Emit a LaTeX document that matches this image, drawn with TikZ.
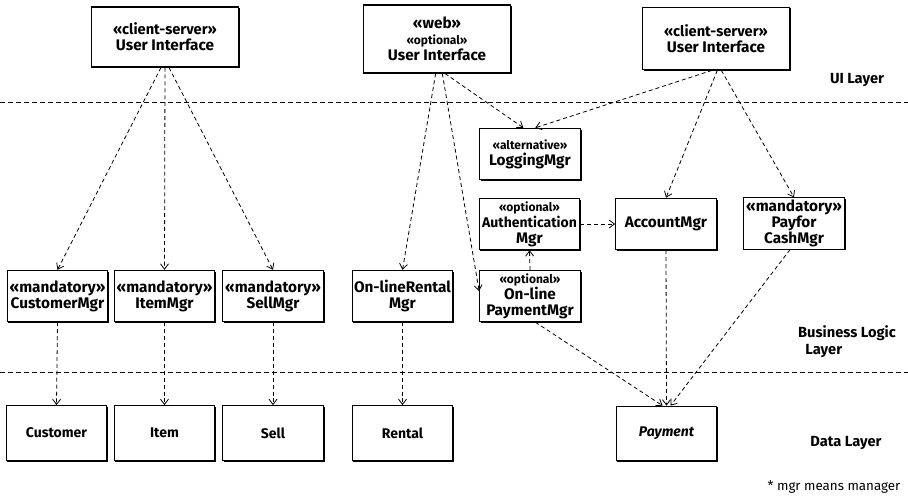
\documentclass[tikz,border=0pt]{standalone}
\usepackage{fontspec}
\setmainfont{Fira Sans}
\usepackage{tikz}
\usetikzlibrary{arrows.meta, shadows}

\newcommand{\stereo}[1]{{\fontsize{9}{10}\selectfont «#1»}}

\begin{document}
\begin{tikzpicture}[x=0.75pt, y=-0.75pt,
    box/.style={draw, line width=0.8pt, fill=white, align=center, inner sep=1pt,
      font=\bfseries\fontsize{11.5}{12}\selectfont,
      drop shadow={shadow xshift=0.9pt, shadow yshift=-0.9pt, fill=black, opacity=1}},
    ui/.style={box, minimum width=110pt, minimum height=45pt},
    mgr/.style={box, minimum width=75.5pt, minimum height=38.5pt},
    data/.style={box, minimum width=75.5pt, minimum height=41pt, font=\bfseries\fontsize{10.5}{12}\selectfont},
    dep/.style={line width=0.6pt, dash pattern=on 3pt off 2.2pt, -{Straight Barb[length=4pt, width=6pt]}},
    layer/.style={line width=0.6pt, dash pattern=on 3.5pt off 2.5pt},
    lbl/.style={font=\bfseries\fontsize{11}{13}\selectfont, align=left}]
  \useasboundingbox (0,0) rectangle (908,498);

  % Layers
  \draw[layer] (0,102) -- (908,102);
  \draw[layer] (0,372) -- (908,372);
  \node[lbl] (uil) at (857,80) {UI Layer};
  \node[lbl] (bll) at (847,342) {Business Logic\\\hspace{0.5em}Layer};
  \node[lbl] (dl) at (846,443) {Data Layer};
  \node[font=\fontsize{10}{11}\selectfont, anchor=east] (note) at (905,487) {* mgr means manager};

  % UI layer
  \node[ui] (ui1) at (165,37) {\fontsize{11}{14}\selectfont «client-server»\\User Interface};
  \node[ui, minimum height=51pt] (ui2) at (437,39) {«web»\\\stereo{optional}\\User Interface};
  \node[ui, minimum height=47pt] (ui3) at (716,38.5) {\fontsize{11}{14}\selectfont «client-server»\\User Interface};

  % Business logic layer
  \node[mgr] (log) at (530,154) {\stereo{alternative}\\LoggingMgr};
  \node[mgr] (auth) at (529.5,224) {\stereo{optional}\\\fontsize{10.5}{11}\selectfont Authentication\\Mgr};
  \node[mgr] (acc) at (666,224) {AccountMgr};
  \node[mgr] (cash) at (794,223.5) {«mandatory»\\Payfor\\CashMgr};
  \node[mgr] (opay) at (530,296) {\stereo{optional}\\On-line\\PaymentMgr};
  \node[mgr] (cmgr) at (57.5,296) {«mandatory»\\CustomerMgr};
  \node[mgr] (imgr) at (164.5,296) {«mandatory»\\ItemMgr};
  \node[mgr] (smgr) at (273,296) {«mandatory»\\SellMgr};
  \node[mgr] (rmgr) at (402.5,296) {On-lineRental\\Mgr};

  % Data layer
  \node[data] (cust) at (56.5,433) {Customer};
  \node[data] (item) at (164.5,433) {Item};
  \node[data] (sell) at (273,433) {Sell};
  \node[data] (rent) at (402.5,433) {Rental};
  \node[data] (pay) at (666.5,433.5) {\itshape Payment};

  % Dependencies
  \draw[dep] ([xshift=-3pt]ui1.south) -- (cmgr.north);
  \draw[dep] (ui1.south) -- (imgr.north);
  \draw[dep] ([xshift=3pt]ui1.south) -- (smgr.north);
  \draw[dep] ([xshift=-1pt]ui2.south) -- (rmgr.north);
  \draw[dep] ([xshift=4pt]ui2.south) -- ([yshift=-16pt]opay.north west);
  \draw[dep] ([xshift=6pt]ui2.south) -- ([xshift=-5pt]log.north);
  \draw[dep] ([xshift=-3pt]ui3.south) -- ([xshift=4pt]log.north);
  \draw[dep] ([xshift=1pt]ui3.south) -- (acc.north);
  \draw[dep] ([xshift=4pt]ui3.south) -- (cash.north);
  \draw[dep] (auth.east) -- (acc.west);
  \draw[dep] (opay.north) -- (auth.south);
  \foreach \a/\b in {cmgr/cust, imgr/item, smgr/sell, rmgr/rent}
    \draw[dep] (\a.south) -- (\b.north);
  \draw[dep] ([xshift=4pt]opay.south) -- ([xshift=-3pt]pay.north);
  \draw[dep] (acc.south) -- (pay.north);
  \draw[dep] ([xshift=-3pt]cash.south) -- ([xshift=3pt]pay.north);
\end{tikzpicture}
\end{document}
